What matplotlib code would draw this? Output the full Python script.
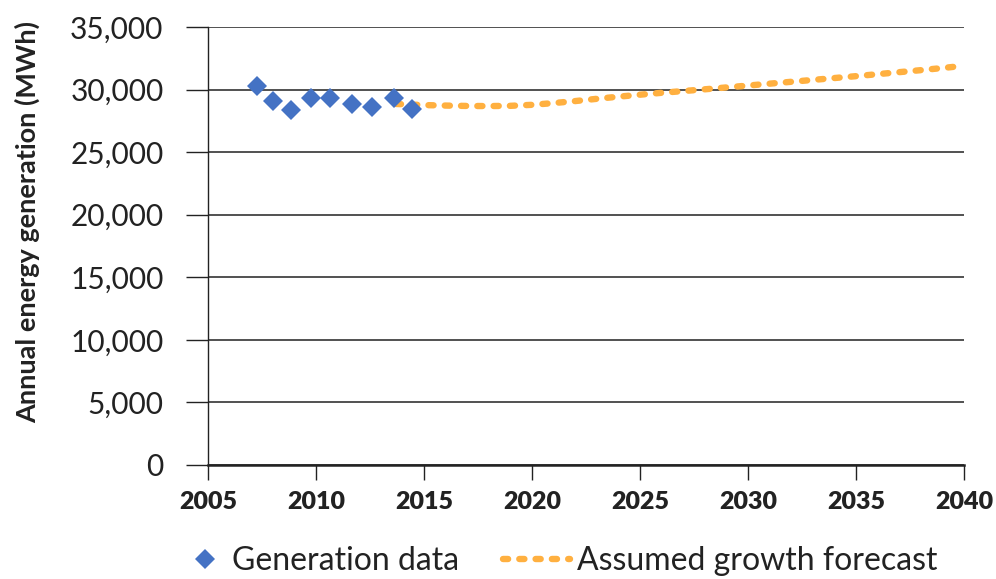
import matplotlib
matplotlib.use("Agg")
import matplotlib.pyplot as plt
from matplotlib.ticker import FuncFormatter

# generation data (MWh)
gen_years = [2007.27, 2008.0, 2008.84, 2009.77, 2010.65, 2011.67, 2012.6, 2013.6, 2014.44]
gen_values = [30250, 29050, 28400, 29300, 29300, 28850, 28600, 29300, 28450]

# assumed growth forecast
fc_years = [2013.7, 2015, 2016, 2017, 2018, 2019, 2020, 2021, 2022, 2023, 2024, 2025, 2026,
            2027, 2028, 2029, 2030, 2031, 2032, 2033, 2034, 2035, 2036, 2037, 2038, 2039, 2040]
fc_values = [28850, 28760, 28720, 28690, 28680, 28700, 28780, 28920, 29080, 29260, 29430, 29590, 29740,
             29880, 30020, 30170, 30320, 30470, 30620, 30770, 30920, 31070, 31230, 31390, 31550, 31720, 31900]

x_ticks = [2005, 2010, 2015, 2020, 2025, 2030, 2035, 2040]
y_ticks = [0, 5000, 10000, 15000, 20000, 25000, 30000, 35000]

plt.rcParams['font.family'] = ['Lato', 'DejaVu Sans']
text_col = '#222222'

fig = plt.figure(figsize=(9.96, 5.79), dpi=100)
ax = fig.add_axes([0.2088, 0.1969, 0.7591, 0.7565])

fc_line, = ax.plot(fc_years, fc_values, color='#FFB040', lw=4.6, linestyle=(0, (0.8, 1.75)),
                   dash_capstyle='round', label='Assumed growth forecast', zorder=3)
gen_pts, = ax.plot(gen_years, gen_values, 'D', color='#4472C4', markersize=10, markeredgewidth=0,
                   label='Generation data', zorder=4)

ax.set_xlim(2005, 2040)
ax.set_ylim(0, 35000)
ax.set_xticks(x_ticks)
ax.set_yticks(y_ticks)
ax.yaxis.set_major_formatter(FuncFormatter(lambda v, p: f"{int(v):,}"))

ax.grid(axis='y', color=text_col, lw=1.1, zorder=1)
for s in ['top', 'right']:
    ax.spines[s].set_visible(False)
ax.spines['left'].set_color(text_col)
ax.spines['left'].set_linewidth(1.0)
ax.spines['bottom'].set_color(text_col)
ax.spines['bottom'].set_linewidth(1.8)

ax.tick_params(axis='y', direction='out', length=16, width=1.0, color=text_col,
               labelsize=21.5, pad=16, labelcolor=text_col)
ax.tick_params(axis='x', direction='out', length=11, width=1.0, color=text_col,
               labelsize=18, pad=8, labelcolor=text_col)
for lab in ax.get_xticklabels():
    lab.set_fontweight('heavy')

ax.set_ylabel('Annual energy generation (MWh)', fontsize=19.5, fontweight='bold',
              color=text_col)
ax.yaxis.set_label_coords(-0.222, 0.555)

# two legend entries placed separately, as in the original
leg1 = fig.legend([gen_pts], ['Generation data'], loc='center left', bbox_to_anchor=(0.19, 0.031),
                  frameon=False, fontsize=23, handlelength=1.0, handletextpad=0.34,
                  borderpad=0, borderaxespad=0, labelcolor=text_col, numpoints=1)
leg2 = fig.legend([fc_line], ['Assumed growth forecast'], loc='center left',
                  bbox_to_anchor=(0.505, 0.031), frameon=False, fontsize=23, handlelength=2.1,
                  handletextpad=0.22, borderpad=0, borderaxespad=0, labelcolor=text_col)

fig.savefig('out.png', dpi=100)
